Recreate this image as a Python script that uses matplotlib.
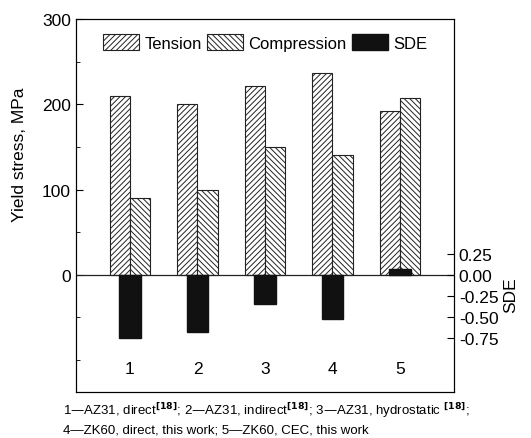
import numpy as np
import matplotlib.pyplot as plt
from matplotlib.patches import Patch

plt.rcParams['font.family'] = ['Liberation Sans', 'DejaVu Sans']
plt.rcParams['hatch.linewidth'] = 0.7

groups = [1, 2, 3, 4, 5]
tension = [210, 200, 221, 237, 192]
compression = [90, 100, 150, 141, 207]
sde = [-0.75, -0.68, -0.34, -0.52, 0.07]

fig = plt.figure(figsize=(5.31, 4.39), dpi=100)
ax = fig.add_axes([0.143, 0.105, 0.712, 0.849])
ax2 = ax.twinx()

x = np.array(groups)
w = 0.3
ax.bar(x - w / 2, tension, w, facecolor='white', edgecolor='#222222',
       linewidth=0.8, hatch='//////')
ax.bar(x + w / 2, compression, w, facecolor='white', edgecolor='#222222',
       linewidth=0.8, hatch='\\\\\\\\\\\\')
ax.axhline(0, color='#222222', lw=0.9)
ax2.bar(x, sde, 0.32, color='#111111', edgecolor='#111111')

ax.set_xlim(0.2, 5.8)
ax.set_ylim(-137.6, 300)
ax2.set_ylim(-1.39, 3.05)

ax.set_yticks([0, 100, 200, 300])
ax.set_yticks([-100, -50, 50, 150, 250], minor=True)
ax.tick_params(axis='y', which='major', direction='in', length=5, labelsize=12.5)
ax.tick_params(axis='y', which='minor', direction='in', length=3)
ax.set_xticks(groups)
ax.set_xticklabels([str(g) for g in groups])
ax.tick_params(axis='x', length=0, pad=-22, labelsize=12.5)

ax2.set_yticks([-0.75, -0.5, -0.25, 0.0, 0.25])
ax2.set_yticklabels(['-0.75', '-0.50', '-0.25', '0.00', '0.25'])
ax2.tick_params(axis='y', direction='in', length=5, labelsize=12.5)

ax.set_ylabel('Yield stress, MPa', fontsize=12.5)
ax.yaxis.set_label_coords(-0.13, 0.638)
ax2.set_ylabel('SDE', fontsize=12.5)
ax2.yaxis.set_label_coords(1.13, 0.263)

handles = [Patch(facecolor='white', edgecolor='#222222', hatch='//////', lw=0.8),
           Patch(facecolor='white', edgecolor='#222222', hatch='\\\\\\\\\\\\', lw=0.8),
           Patch(facecolor='#111111', edgecolor='#111111')]
ax2.legend(handles, ['Tension', 'Compression', 'SDE'], loc='upper center',
           bbox_to_anchor=(0.5, 1.0), ncol=3, frameon=False, fontsize=12,
           handlelength=2.2, handleheight=1.1, handletextpad=0.3,
           columnspacing=0.3)

fig.text(0.118, 0.055, r'1—AZ31, direct$^{\bf [18]}$; 2—AZ31, indirect$^{\bf [18]}$; '
         r'3—AZ31, hydrostatic $^{\bf [18]}$;', fontsize=9.5)
fig.text(0.118, 0.012, '4—ZK60, direct, this work; 5—ZK60, CEC, this work',
         fontsize=9.5)

fig.savefig('out.png', dpi=100)
